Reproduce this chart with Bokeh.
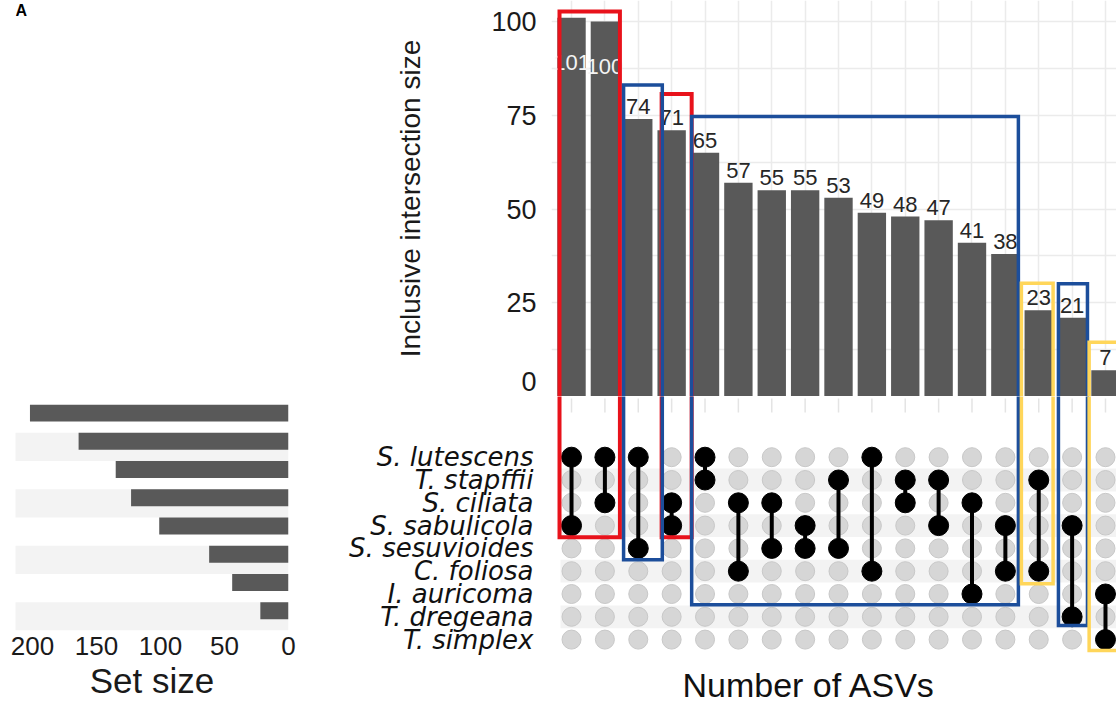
from bokeh.plotting import figure
from bokeh.layouts import row, column
from bokeh.models import Range1d, FixedTicker, ColumnDataSource, Title
from bokeh.embed import file_html
from bokeh.resources import INLINE
from bokeh.core.properties import value

# ---------------- data ----------------
set_names = ["S. lutescens", "T. stapffii", "S. ciliata", "S. sabulicola", "S. sesuvioides",
             "C. foliosa", "I. auricoma", "T. dregeana", "T. simplex"]
intersection_sizes = [101, 100, 74, 71, 65, 57, 55, 55, 53, 49, 48, 47, 41, 38, 23, 21, 7]
intersection_members = [
    ["S. lutescens", "S. sabulicola"],
    ["S. lutescens", "S. ciliata"],
    ["S. lutescens", "S. sesuvioides"],
    ["S. ciliata", "S. sabulicola"],
    ["S. lutescens", "T. stapffii"],
    ["S. ciliata", "C. foliosa"],
    ["S. ciliata", "S. sesuvioides"],
    ["S. sabulicola", "S. sesuvioides"],
    ["T. stapffii", "S. sesuvioides"],
    ["S. lutescens", "C. foliosa"],
    ["T. stapffii", "S. ciliata"],
    ["T. stapffii", "S. sabulicola"],
    ["S. ciliata", "I. auricoma"],
    ["S. sabulicola", "C. foliosa"],
    ["T. stapffii", "C. foliosa"],
    ["S. sabulicola", "T. dregeana"],
    ["I. auricoma", "T. simplex"],
]
set_sizes = [202, 164, 135, 123, 101, 62, 44, 22]
intersection_ticks = [0, 25, 50, 75, 100]
set_size_ticks = [0, 50, 100, 150, 200]
panel_letter = "A"

# hand-drawn highlight boxes: column-unit edges, top value, bottom row edge
highlight_color = ["#E8121B", "#E8121B", "#1C4E9B", "#1C4E9B", "#1C4E9B", "#FFD65A", "#FFD65A"]
highlight_left = [0.64, 3.70, 2.56, 4.60, 15.59, 14.48, 16.51]
highlight_right = [2.45, 4.60, 3.72, 14.39, 16.46, 15.43, 17.60]
highlight_top = [102.7, 80.7, 83.1, 74.7, 30.1, 30.2, 14.5]
highlight_bottom = [3.51, 3.51, 4.50, 6.47, 7.38, 5.55, 8.48]
highlight_width = [4, 4, 3.5, 3.5, 3.5, 3.5, 3.5]

# ---------------- layout constants ----------------
FONT = "Liberation Sans"
LABEL_FONT = "DejaVu Sans"
BAR_GREY = "#595959"
STRIPE = "#f3f3f3"
FRAME_LEFT = 551
BORDER_L = 222
LEFT_W = FRAME_LEFT - BORDER_L
RIGHT_W = 1116 - LEFT_W
BAR_H = 396
Y_MAX = 105.6
PX_PER_UNIT = BAR_H / Y_MAX
ZERO_LABEL_LIFT_PX = 15
MAT_H = 718 - BAR_H
MAT_FRAME_H = 266
ROW_PX = 22.8
FIRST_ROW_PX = 60.7  # distance of first matrix row below matrix frame top
LETTER_H = 20

ncol = len(intersection_sizes)
cols = list(range(1, ncol + 1))
x_range = Range1d(0.4, 17.33)


def plain_axis(ax):
    ax.axis_line_color = None
    ax.major_tick_line_color = None
    ax.minor_tick_line_color = None
    ax.major_tick_out = 0
    ax.major_tick_in = 0
    ax.minor_tick_out = 0
    ax.minor_tick_in = 0


# ---------------- intersection bars ----------------
bar_fig = figure(width=RIGHT_W, height=BAR_H, x_range=x_range, y_range=Range1d(0, Y_MAX),
                 output_backend="svg", toolbar_location=None, x_axis_location=None,
                 min_border_left=BORDER_L, min_border_right=0, min_border_top=0, min_border_bottom=0)
bar_fig.outline_line_color = None
bar_fig.xgrid.ticker = FixedTicker(ticks=cols)
bar_fig.ygrid.ticker = FixedTicker(ticks=[0, 12.5, 25, 37.5, 50, 62.5, 75, 87.5, 100])
bar_fig.grid.grid_line_color = "#ebebeb"
bar_fig.grid.grid_line_width = 1.5

# the "0" label sits a little above the baseline (as in the reference) so it is not cut
tick_pos = [t if t > 0 else t + ZERO_LABEL_LIFT_PX / PX_PER_UNIT for t in intersection_ticks]
yax = bar_fig.yaxis[0]
plain_axis(yax)
yax.ticker = FixedTicker(ticks=tick_pos)
yax.major_label_overrides = {p: str(t) for p, t in zip(tick_pos, intersection_ticks)}
yax.major_label_text_font = FONT
yax.major_label_text_font_size = "27px"
yax.major_label_text_color = "#1a1a1a"
yax.major_label_standoff = 15
yax.axis_label = "Inclusive intersection size"
yax.axis_label_text_font = FONT
yax.axis_label_text_font_style = "normal"
yax.axis_label_text_font_size = "28px"
yax.axis_label_text_color = "#1a1a1a"
yax.axis_label_standoff = 62

bar_fig.vbar(x=cols, top=intersection_sizes, width=0.85, fill_color=BAR_GREY, line_color=None)

inside = [v > 95 for v in intersection_sizes]
out_src = ColumnDataSource(dict(
    x=[c for c, ins in zip(cols, inside) if not ins],
    y=[v for v, ins in zip(intersection_sizes, inside) if not ins],
    t=[str(v) for v, ins in zip(intersection_sizes, inside) if not ins]))
in_src = ColumnDataSource(dict(
    x=[c for c, ins in zip(cols, inside) if ins],
    y=[v - 12 for v, ins in zip(intersection_sizes, inside) if ins],
    t=[str(v) for v, ins in zip(intersection_sizes, inside) if ins]))
bar_fig.text(x="x", y="y", text="t", source=out_src, text_align="center",
             text_baseline="bottom", y_offset=-5, text_font=value(FONT),
             text_font_size="22px", text_color="#262626")
bar_fig.text(x="x", y="y", text="t", source=in_src, text_align="center",
             text_baseline="middle", text_font=value(FONT),
             text_font_size="22px", text_color="#f4f4f4")

# ---------------- matrix ----------------
row_top = -FIRST_ROW_PX / ROW_PX
row_bottom = row_top + MAT_FRAME_H / ROW_PX
mat_fig = figure(width=RIGHT_W, height=MAT_H, x_range=x_range,
                 y_range=Range1d(row_bottom, row_top),
                 output_backend="svg", toolbar_location=None, x_axis_location=None,
                 min_border_left=BORDER_L, min_border_right=0, min_border_top=0,
                 min_border_bottom=MAT_H - MAT_FRAME_H)
mat_fig.outline_line_color = None
mat_fig.grid.visible = False

max_ = mat_fig.yaxis[0]
plain_axis(max_)
max_.ticker = FixedTicker(ticks=list(range(len(set_names))))
max_.major_label_overrides = {i: n for i, n in enumerate(set_names)}
max_.major_label_text_font = LABEL_FONT
max_.major_label_text_font_style = "italic"
max_.major_label_text_font_size = "26px"
max_.major_label_text_color = "#111111"
max_.major_label_standoff = 18

# stripes
stripe_rows = [i for i in range(len(set_names)) if i % 2 == 1]
mat_fig.hbar(y=stripe_rows, left=0.67, right=18, height=1.0, fill_color=STRIPE, line_color=None)

# faint ticks under the bars
mat_fig.segment(x0=cols, x1=cols, y0=[row_top + 2 / ROW_PX] * ncol, y1=[row_top + 16 / ROW_PX] * ncol,
                line_color="#e4e4e4", line_width=1.5)

# grey dots
gx, gy = [], []
for c in cols:
    for r in range(len(set_names)):
        gx.append(c)
        gy.append(r)
mat_fig.scatter(x=gx, y=gy, size=19, fill_color="#d6d6d6", line_color="#c8c8c8", line_width=1)

# member lines and dots
sx0, sy0, sy1, bx, by = [], [], [], [], []
for c, mem in zip(cols, intersection_members):
    rows_ = [set_names.index(m) for m in mem]
    sx0.append(c)
    sy0.append(min(rows_))
    sy1.append(max(rows_))
    for r in rows_:
        bx.append(c)
        by.append(r)
mat_fig.segment(x0=sx0, x1=sx0, y0=sy0, y1=sy1, line_color="black", line_width=4)
mat_fig.scatter(x=bx, y=by, size=20, fill_color="black", line_color="black")

mat_fig.add_layout(Title(text="Number of ASVs", align="left", offset=131, standoff=2,
                         text_font=FONT, text_font_size="34px", text_font_style="normal",
                         text_color="#111111"), "below")

# ---------------- highlight boxes (split across the two panels) ----------------
for col_, L, R, T, B, W in zip(highlight_color, highlight_left, highlight_right,
                                highlight_top, highlight_bottom, highlight_width):
    bar_fig.line(x=[L, L, R, R], y=[-50, T, T, -50], line_color=col_, line_width=W, line_join="miter")
    mat_fig.line(x=[L, L, R, R], y=[-50, B, B, -50], line_color=col_, line_width=W, line_join="miter")

# ---------------- panel letter ----------------
a_fig = figure(width=LEFT_W, height=LETTER_H, x_range=Range1d(0, LEFT_W), y_range=Range1d(LETTER_H, 0),
               output_backend="svg", toolbar_location=None, x_axis_location=None,
               y_axis_location=None, min_border=0)
a_fig.outline_line_color = None
a_fig.grid.visible = False
a_fig.text(x=[0], y=[1], text=[panel_letter], text_align="left", text_baseline="top",
           text_font=value(FONT), text_font_style="bold", text_font_size="16px", text_color="black")

# ---------------- set size panel ----------------
nset = len(set_sizes)
SS_MAX = 213.3
ss_fig = figure(width=LEFT_W, height=718 - LETTER_H, x_range=Range1d(SS_MAX, 0),
                y_range=Range1d(nset - 0.5, -0.5),
                output_backend="svg", toolbar_location=None, y_axis_location=None,
                min_border_left=15, min_border_right=LEFT_W - 288, min_border_top=404 - LETTER_H,
                min_border_bottom=718 - 404 - 226)
ss_fig.outline_line_color = None
ss_fig.grid.visible = False
ss_rows = list(range(nset))
ss_fig.hbar(y=[r for r in ss_rows if r % 2 == 1], left=0, right=SS_MAX + 5, height=1.0,
            fill_color=STRIPE, line_color=None)
ss_fig.hbar(y=[r - 0.2 for r in ss_rows], left=0, right=set_sizes, height=0.6,
            fill_color=BAR_GREY, line_color=None)
xax = ss_fig.xaxis[0]
plain_axis(xax)
xax.ticker = FixedTicker(ticks=set_size_ticks)
xax.major_label_text_font = FONT
xax.major_label_text_font_size = "26px"
xax.major_label_text_color = "#1a1a1a"
xax.major_label_standoff = 6
xax.axis_label = "Set size"
xax.axis_label_text_font = FONT
xax.axis_label_text_font_style = "normal"
xax.axis_label_text_font_size = "35px"
xax.axis_label_text_color = "#1a1a1a"
xax.axis_label_standoff = 3

layout = row(column(a_fig, ss_fig), column(bar_fig, mat_fig))
open("out.html", "w").write(file_html(layout, INLINE))
